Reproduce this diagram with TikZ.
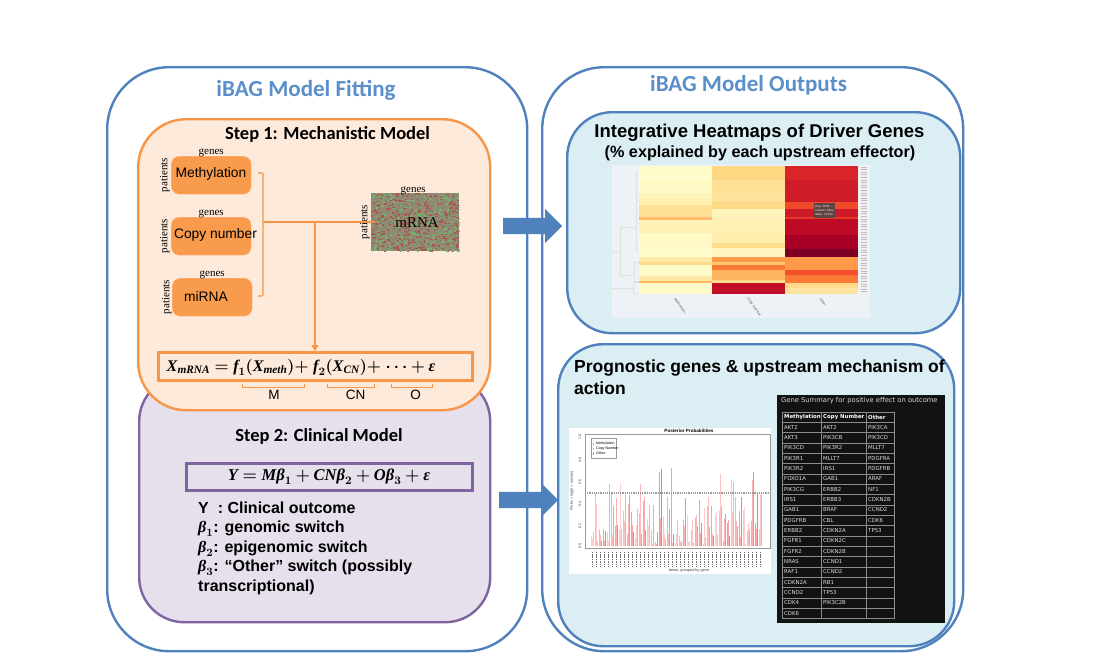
\RequirePackage{fix-cm}
\documentclass[tikz,border=0pt]{standalone}
\usepackage{amsmath,bm}
\usepackage{fontspec}
\setmainfont{Liberation Sans}
\newfontfamily\calfont{Carlito}
\newfontfamily\serfont{Liberation Serif}
\newfontfamily\tabfont{DejaVu Sans}
\usetikzlibrary{arrows.meta, positioning, shapes.arrows, calc}

\definecolor{ibagblue}{HTML}{4F81BD}
\definecolor{headblue}{HTML}{5B8FC9}
\definecolor{orangeline}{HTML}{F79646}
\definecolor{orangefill}{HTML}{FDEADA}
\definecolor{orangebox}{HTML}{F99B4C}
\definecolor{purpleline}{HTML}{8064A2}
\definecolor{purplefill}{HTML}{E6E0EC}
\definecolor{panelfill}{HTML}{DAEEF3}
\definecolor{heatback}{HTML}{EEF1F6}
\definecolor{tipfill}{HTML}{5E4444}
\definecolor{mrnaback}{HTML}{8E8B74}
\definecolor{mrnared}{HTML}{A9584F}
\definecolor{mrnagreen}{HTML}{74B56E}
\definecolor{barblue}{HTML}{A8A8FF}
\definecolor{barred}{HTML}{FFA0A0}
\definecolor{bargray}{HTML}{9A9A9A}

\newcommand{\fsym}[1]{\text{\serfont\bfseries\itshape #1}}

\begin{document}
\begin{tikzpicture}[
    x=1pt, y=-1pt,
    panel/.style n args={3}{draw=#1, fill=#2, line width=2.4pt, rounded corners=#3,
                anchor=north west, inner sep=0pt},
    omic/.style={fill=orangebox, draw=orangebox!60!white, rounded corners=8pt, minimum width=80pt,
                minimum height=38pt, anchor=north west, inner sep=0pt},
    omictxt/.style={font=\fontsize{13.8}{17}\selectfont},
    genes/.style={font=\serfont\fontsize{11}{13}\selectfont, inner sep=0pt},
    patients/.style={font=\serfont\fontsize{11}{13}\selectfont, inner sep=0pt, rotate=90},
    head/.style={font=\calfont\bfseries\fontsize{23}{26}\selectfont, text=headblue},
    steptitle/.style={font=\calfont\bfseries\fontsize{18.5}{23}\selectfont},
    paneltitle/.style={font=\bfseries\fontsize{#1}{22}\selectfont, align=left, inner sep=0pt},
    fbox/.style={draw=#1, line width=3.4pt, anchor=north west, inner sep=0pt},
    flow/.style={draw=orangeline, line width=1.1pt},
    blockarrow/.style={single arrow, fill=ibagblue, minimum height=59pt, minimum width=34pt,
                single arrow head extend=9pt, inner sep=0pt, text height=16pt, text depth=0pt, anchor=west},
    cell/.style={font=\tabfont\fontsize{5.4}{7}\selectfont, text=white!85!black, anchor=west, inner sep=0pt},
    tiny/.style={font=\fontsize{#1}{#1}\selectfont, inner sep=0pt},
    >={Triangle[length=6pt,width=7pt]}
  ]
  \useasboundingbox (0,0) rectangle (1113,654);

  % Outer frames
  \node[panel={ibagblue}{white}{62pt}, minimum width=420pt, minimum height=584pt] (fitframe) at (106,66) {};
  \node[panel={ibagblue}{white}{62pt}, minimum width=421pt, minimum height=584pt] (outframe) at (541,66) {};
  \node[head] (fithead) at (306,90.5) {iBAG Model Fitting};
  \node[head] (outhead) at (748.5,85) {iBAG Model Outputs};

  % Step 2 panel
  \node[panel={purpleline}{purplefill}{45pt}, minimum width=351pt, minimum height=246pt] (clinical) at (138,375) {};
  % Step 1 panel
  \node[panel={orangeline}{orangefill}{48pt}, minimum width=352pt, minimum height=291pt] (mech) at (137,118) {};
  \node[steptitle] (steponetitle) at (327.5,134.5) {Step 1: Mechanistic Model};

  % Upstream data boxes
  \node[omic] (meth) at (171,156) {};
  \node[omic] (copy) at (171,217) {};
  \node[omic] (mir) at (172,278) {};
  \node[omictxt] (methtxt) at (211,174) {Methylation};
  \node[omictxt] (copytxt) at (215.5,235) {Copy number};
  \node[omictxt] (mirtxt) at (206,296) {miRNA};
  \node[genes, above=-1pt of meth] {genes};
  \node[genes, above=-1pt of copy] {genes};
  \node[genes, above=-1pt of mir] {genes};
  \node[patients, left=2pt of meth, yshift=-1pt, anchor=south] {patients};
  \node[patients, left=1pt of copy, anchor=south] {patients};
  \node[patients, left=1pt of mir, yshift=-1pt, anchor=south] {patients};

  % mRNA matrix
  \node[anchor=north west, fill=mrnaback, minimum width=88pt, minimum height=58pt, inner sep=0pt] (mrna) at (371,193) {};
  \pgfmathsetseed{42}
  \begin{scope}
    \clip (mrna.north west) rectangle (mrna.south east);
    \foreach \n in {1,...,620} {
      \pgfmathsetmacro{\xa}{371+88*rnd}
      \pgfmathsetmacro{\ya}{193+58*rnd}
      \pgfmathsetmacro{\kind}{rnd}
      \ifdim\kind pt<0.68pt
        \fill[mrnared] (\xa,\ya) rectangle ++(2.2,1.4);
      \else
        \fill[mrnagreen] (\xa,\ya) rectangle ++(2.2,1.6);
      \fi
    }
  \end{scope}
  \node[font=\serfont\fontsize{15}{18}\selectfont] (mrnatxt) at (417,223) {mRNA};
  \node[genes, above=-2pt of mrna, xshift=-2pt] {genes};
  \node[patients, left=1pt of mrna, anchor=south] {patients};

  % Formula boxes
  \node[fbox=orangeline, minimum width=314pt, minimum height=28pt] (xbox) at (157,351) {};
  \node[font=\fontsize{16.2}{20}\selectfont] (xform) at (301,367)
    {$\fsym{X}_{\fsym{mRNA}} \bm{=} \fsym{f}_{\bm{1}}\bm{(}\fsym{X}_{\fsym{meth}}\bm{)}{\bm{+}}\ \fsym{f}_{\bm{2}}\bm{(}\fsym{X}_{\fsym{CN}}\bm{)}{\bm{+}}\ \bm{\cdots} \bm{+} \fsym{ε}$};
  \node[fbox=purpleline, minimum width=286pt, minimum height=27pt] (ybox) at (185,462) {};
  \node[font=\fontsize{16.5}{20}\selectfont] (yform) at (329,477)
    {$\fsym{Y} \bm{=} \fsym{Mβ}_{\bm{1}} \bm{+} \fsym{CNβ}_{\bm{2}} \bm{+} \fsym{Oβ}_{\bm{3}} \bm{+} \fsym{ε}$};

  % Connectors
  \coordinate (bratop) at (258,173);
  \coordinate (brabot) at (258,296);
  \coordinate (brahub) at (263,222);
  \coordinate (hubdrop) at (315,222);
  \coordinate (mrnain) at (375,222);
  \draw[flow, rounded corners=1pt] (bratop) -- ++(5,0) -- ++(0,123) -- (brabot);
  \draw[flow] (brahub) -- (mrnain);
  \draw[flow, ->] (hubdrop) -- (hubdrop |- xbox.north);

  % Small brackets
  \foreach \na/\xa/\xb/\dx/\lab in {m/242/304/1/M, cn/327/374/5/CN, o/391/432/4/O} {
    \coordinate (\na a) at (\xa,384);
    \coordinate (\na b) at (\xb,384);
    \draw[draw=orangeline, line width=0.8pt] (\na a) -- ++(0,3) -| (\na b);
    \node[tiny=13.5, below=6pt of $(\na a)!0.5!(\na b)$, xshift=\dx pt] (\na lab) {\lab};
  }

  % Step 2 text
  \node[steptitle] (steptwotitle) at (319,436) {Step 2: Clinical Model};
  \node[anchor=north west, inner sep=0pt, align=left, font=\bfseries\fontsize{16}{19.5}\selectfont] (legend) at (198,501.5)
    {Y\ \ : Clinical outcome\\
     $\fsym{β}_{\bm{1}}$: genomic switch\\
     $\fsym{β}_{\bm{2}}$: epigenomic switch\\
     $\fsym{β}_{\bm{3}}$: “Other” switch (possibly\\
     transcriptional)};

  % Block arrows
  \node[blockarrow] (toheat) at (503,226) {};
  \node[blockarrow] (toprog) at (499,500) {};

  % Heatmap panel
  \node[panel={ibagblue}{panelfill}{45pt}, minimum width=393pt, minimum height=221pt] (heatpanel) at (566,111) {};
  \node[font=\bfseries\fontsize{18.5}{22}\selectfont] (heathead) at (759.5,132.5) {Integrative Heatmaps of Driver Genes};
  \node[font=\bfseries\fontsize{16.2}{18}\selectfont] (heatsub) at (760,153) {(\% explained by each upstream effector)};
  \node[anchor=north west, fill=heatback, minimum width=258pt, minimum height=153pt, inner sep=0pt] (heatbg) at (611.5,164.5) {};

  % Heatmap cells
  \foreach \ya/\yb/\hx in {166/180/FFFCCB, 180/186/FFF9C2, 186/193/FFFBC8, 193/198/FFF3BC, 198/205/FFEFB0,
      205/217/FEE197, 217/219.5/FDBB68, 219.5/224/FFF3BC, 224/233/FFF0B5, 233/246/FFFAC5, 246/257/FFFCCB,
      257/262/FEE8A5, 262/265/FEDB8B, 265/276/FFFBC8, 276/281/FEE8A5, 281/283/FDB863, 283/294/FFFBC8} {
    \definecolor{cellc}{HTML}{\hx}
    \fill[cellc] (639,\ya) rectangle (712,\yb);
  }
  \foreach \ya/\yb/\hx in {166/180/FED783, 180/193/FEDF93, 193/201/FEE49E, 201/209/FED988, 209/219/FFF3BC,
      219/233/FFF0B4, 233/243/FFEDAC, 243/248/FEDD8E, 248/257/FFF5C0, 257/262/FD9A48, 262/265/FEC56C,
      265/270/FB7A38, 270/280/FDB45E, 280/283/FEDB8B, 283/294/C00F26} {
    \definecolor{cellc}{HTML}{\hx}
    \fill[cellc] (712,\ya) rectangle (785,\yb);
  }
  \foreach \ya/\yb/\hx in {166/180/D9252A, 180/202/CF1C29, 202/209/EF4A2C, 209/217/CE1A28, 217/219/E8382A,
      219/235/BE0A26, 235/249/A80026, 249/257/7F0026, 257/270/FE9A4A, 270/275/F4502E, 275/283/FC7A38,
      283/288/FED98A, 288/294/FEE49E} {
    \definecolor{cellc}{HTML}{\hx}
    \fill[cellc] (785,\ya) rectangle (858,\yb);
  }

  % Dendrogram and row marks
  \foreach \xa/\xb/\xc/\ya/\yb in {612/620/630/251/227, 620/620/630/251/275, 630/636/639/227/200, 636/636/639/200/172,
      630/636/639/227/250, 630/634/639/275/262, 630/634/639/275/281, 612/633/639/288/282, 633/633/639/288/293} {
    \draw[black!12, line width=0.4pt] (\xa,\ya) -- (\xb,\ya) -- (\xb,\yb) -- (\xc,\yb);
  }
  \fill[white!94!black] (860,166) rectangle (868,294);
  \foreach \ya in {167,169.6,...,293} {
    \draw[black!25, line width=0.7pt] (861,\ya) -- (867,\ya);
  }
  \node[tiny=3.6, text=black!60, rotate=-55] (hmeth) at (680,306) {Methylation};
  \node[tiny=3.6, text=black!60, rotate=-55] (hcopy) at (754,307) {Copy Number};
  \node[tiny=3.6, text=black!60, rotate=-55] (hother) at (823,302) {Other};
  \node[fill=tipfill, minimum width=21pt, minimum height=15pt, inner sep=0pt, align=left,
        font=\fontsize{2.8}{4.4}\selectfont, text=white] (tooltip) at (824.5,210.5) {Row: TP53\\Column: Other\\Value: 76.013};

  % Prognostic panel
  \node[panel={ibagblue}{panelfill}{45pt}, minimum width=396pt, minimum height=302pt] (progpanel) at (557,343) {};
  \node[paneltitle=17.5, anchor=north west] (proghead) at (574,360) {Prognostic genes \& upstream mechanism of\\action};

  % Bar chart
  \node[anchor=north west, fill=white, minimum width=202pt, minimum height=146pt, inner sep=0pt] (barbg) at (569,428) {};
  \node[tiny=4.6, font=\bfseries\fontsize{4.6}{5}\selectfont] (bartitle) at (689,430.5) {Posterior Probabilities};
  \foreach \mv/\cv/\ov [count=\i from 0] in {.09/.06/.13, .49/.39/.05, .16/.10/.05, .16/.05/.14, .13/.05/.57, .48/.10/.37,
      .18/.44/.19, .15/.58/.16, .32/.23/.47, .11/.39/.47, .31/.19/.13, .07/.19/.34, .30/.57/.11, .41/.45/.15, .25/.18/.38,
      .15/.02/.38, .04/.02/.13, .68/.26/.71, .27/.10/.06, .45/.11/.34, .72/.03/.11, .03/.11/.24, .09/.04/.05, .24/.18/.44,
      .28/.04/.05, .15/.24/.03, .26/.28/.18, .42/.12/.21, .02/.35/.08, .37/.45/.17, .37/.11/.09, .28/.31/.11, .32/.66/.37,
      .05/.26/.29, .21/.24/.09, .61/.31/.59, .45/.23/.18, .32/.08/.45, .33/.36/.02, .14/.21/.16, .23/.61/.68, .21/.16/.48,
      .16/.48/.47} {
    \pgfmathsetmacro{\xa}{590.5+4.0*\i}
    \pgfmathsetmacro{\shade}{0.45+0.022*mod(\i*7,24)}
    \fill[barblue, fill opacity=\shade] (\xa,546) rectangle ++(1.3,-109*\mv);
    \fill[barred, fill opacity=\shade] (\xa+1.3,546) rectangle ++(1.3,-109*\cv);
    \fill[bargray, fill opacity=\shade] (\xa+2.6,546) rectangle ++(1.3,-109*\ov);
    \draw[black!55, line width=0.9pt, dash pattern=on 1.2pt off 0.5pt] (\xa+1.9,552) -- ++(0,14);
  }
  \node[draw=black!40, line width=0.8pt, anchor=north west, minimum width=185pt, minimum height=114pt, inner sep=0pt] (barframe) at (585,434) {};
  \coordinate (cutleft) at (585,493);
  \draw[black!40, line width=1.2pt, densely dotted] (cutleft) -- (cutleft -| barframe.east);
  \foreach \yv/\lab in {437/1.0, 460/0.8, 482/0.6, 504/0.4, 526/0.2, 546/0.0} {
    \node[tiny=3.6, rotate=90, text=black!70] (tick\lab) at (580,\yv) {\lab};
  }
  \node[tiny=3.8, rotate=90, text=black!70] (barylab) at (572,491) {Probs > log(h + oomax)};
  \node[tiny=3.8, text=black!75] (barxlab) at (689,571) {betas, grouped by gene};
  \node[draw=black!40, line width=0.6pt, anchor=north west, minimum width=25pt, minimum height=20pt, inner sep=0pt] (barleg) at (591,438) {};
  \foreach \yv/\colr/\lab in {444/barblue/Methylation, 449/barred/Copy Number, 453.5/bargray/Other} {
    \node[tiny=3.6, anchor=west] (leg\colr) at (596,\yv) {\lab};
    \draw[\colr, line width=0.7pt] (593,\yv-1.5) -- ++(0,2.5);
  }

  % Gene summary table
  \node[anchor=north west, fill=black!93, minimum width=168pt, minimum height=228pt, inner sep=0pt] (sumbg) at (777,394.5) {};
  \node[anchor=west, inner sep=0pt, font=\tabfont\fontsize{6.75}{8}\selectfont, text=white!85!black] (sumhead) at (781,401) {Gene Summary for positive effect on outcome};
  \foreach \row/\ca/\cb/\cc in {1/AKT2/AKT2/PIK3CA, 2/AKT3/PIK3CB/PIK3CD, 3/PIK3CD/PIK3R2/MLLT7, 4/PIK3R1/MLLT7/PDGFRA,
      5/PIK3R2/IRS1/PDGFRB, 6/FOXO1A/GAB1/ARAF, 7/PIK3CG/ERBB2/NF1, 8/IRS1/ERBB3/CDKN2B, 9/GAB1/BRAF/CCND2,
      10/PDGFRB/CBL/CDK6, 11/ERBB2/CDKN2A/TP53, 12/FGFR1/CDKN2C/{}, 13/FGFR2/CDKN2B/{}, 14/NRAS/CCND1/{},
      15/RAF1/CCND2/{}, 16/CDKN2A/RB1/{}, 17/CCND2/TP53/{}, 18/CDK4/PIK3C2B/{}, 19/CDK6/{}/{}} {
    \node[cell] (ca\row) at (784,417+10.33*\row) {\ca};
    \node[cell] (cb\row) at (823,417+10.33*\row) {\cb};
    \node[cell] (cc\row) at (868,417+10.33*\row) {\cc};
  }
  \node[cell, font=\tabfont\bfseries\fontsize{5.4}{7}\selectfont, text=white] (capm) at (784,417) {Methylation};
  \node[cell, font=\tabfont\bfseries\fontsize{5.4}{7}\selectfont, text=white] (capc) at (823,417) {Copy Number};
  \node[cell, font=\tabfont\bfseries\fontsize{5.4}{7}\selectfont, text=white] (capo) at (868,417) {Other};
  \foreach \xa in {782,821,866,894} {
    \draw[black!45, line width=0.6pt] (\xa,412) -- (\xa,618.5);
  }
  \foreach \n in {0,...,20} {
    \draw[black!45, line width=0.6pt] (782,412+10.33*\n) -- (894,412+10.33*\n);
  }

\end{tikzpicture}
\end{document}
